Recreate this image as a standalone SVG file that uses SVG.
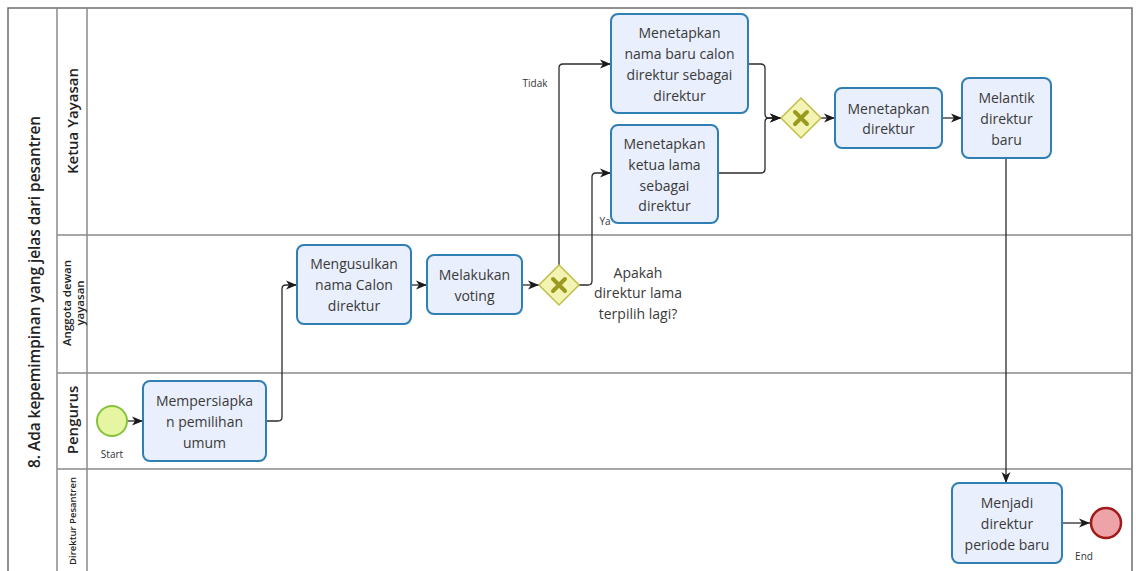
<svg xmlns="http://www.w3.org/2000/svg" width="1136" height="571" viewBox="0 0 1136 571">
<style>
.pool{fill:#ffffff;stroke:#6e6e6e;stroke-width:1.5}
.lane{stroke:#8a8a8a;stroke-width:1.5;fill:none}
.task{fill:#e9effc;stroke:#2f7fb4;stroke-width:2}
.tt{font-family:"Open Sans","Liberation Sans",sans-serif;font-size:14px;fill:#3a3a3a;text-anchor:middle;dominant-baseline:central}
.lbl{font-family:"Open Sans","Liberation Sans",sans-serif;font-size:10px;fill:#333;text-anchor:middle;dominant-baseline:central}
.hdr{font-family:"Open Sans","Liberation Sans",sans-serif;font-weight:600;fill:#222;text-anchor:middle;dominant-baseline:central}
.gw{fill:#f3f3b4;stroke:#bfbf48;stroke-width:1.5}
.gx{stroke:#9a9a1e;stroke-width:4;stroke-linecap:round}
.conn{fill:none;stroke:#2b2b2b;stroke-width:1.3}
</style>
<defs>
<marker id="arr" markerUnits="userSpaceOnUse" markerWidth="12" markerHeight="10" refX="11" refY="5" orient="auto">
<path d="M0,0.5 L11,5 L0,9.5 L3,5 Z" fill="#1a1a1a"/>
</marker>
</defs>
<rect width="1136" height="571" fill="#ffffff"/>
<g id="pool">
<rect class="pool" x="8" y="8" width="1124" height="575"/>
<line class="lane" x1="57" y1="8" x2="57" y2="571"/>
<line class="lane" x1="87" y1="8" x2="87" y2="571"/>
<line class="lane" x1="57" y1="235" x2="1132" y2="235"/>
<line class="lane" x1="57" y1="373" x2="1132" y2="373"/>
<line class="lane" x1="57" y1="469" x2="1132" y2="469"/>
<text class="hdr" font-size="15.5" transform="translate(34,292) rotate(-90)" textLength="352" lengthAdjust="spacingAndGlyphs">8. Ada kepemimpinan yang jelas dari pesantren</text>
</g>
<g id="lane-ketua"><text class="hdr" font-size="15" transform="translate(72,121) rotate(-90)">Ketua Yayasan</text></g>
<g id="lane-anggota"><text class="hdr" font-size="11.5" transform="translate(66,303) rotate(-90)">Anggota dewan</text><text class="hdr" font-size="11.5" transform="translate(79,303) rotate(-90)">yayasan</text></g>
<g id="lane-pengurus"><text class="hdr" font-size="15" transform="translate(72,420) rotate(-90)">Pengurus</text></g>
<g id="lane-direktur"><text class="hdr" font-size="9.5" transform="translate(72,521) rotate(-90)">Direktur Pesantren</text></g>

<g id="connectors">
<path class="conn" marker-end="url(#arr)" d="M127,421 H143"/>
<path class="conn" marker-end="url(#arr)" d="M266,421 H278 Q282,421 282,417 V289 Q282,285 286,285 H297"/>
<path class="conn" marker-end="url(#arr)" d="M411,285 H427"/>
<path class="conn" marker-end="url(#arr)" d="M522,285 H539"/>
<path class="conn" marker-end="url(#arr)" d="M559,265 V68 Q559,64 563,64 H611"/>
<path class="conn" marker-end="url(#arr)" d="M579,285 H588 Q592,285 592,281 V177 Q592,173 596,173 H611"/>
<path class="conn" marker-end="url(#arr)" d="M748,64 H761 Q765,64 765,68 V114 Q765,118 769,118 H781"/>
<path class="conn" marker-end="url(#arr)" d="M718,173 H761 Q765,173 765,169 V122 Q765,118 769,118 H781"/>
<path class="conn" marker-end="url(#arr)" d="M821,118 H835"/>
<path class="conn" marker-end="url(#arr)" d="M942,118 H962"/>
<path class="conn" marker-end="url(#arr)" d="M1006,158 V483"/>
<path class="conn" marker-end="url(#arr)" d="M1062,523 H1090"/>
<text class="lbl" x="535" y="83">Tidak</text>
<text class="lbl" x="605" y="221">Ya</text>
</g>

<g id="start">
<circle cx="112" cy="421" r="15" fill="#e6f5a2" stroke="#86c23e" stroke-width="2"/>
<text class="lbl" x="112" y="454">Start</text>
</g>
<g id="t-mempersiapkan">
<rect class="task" x="143" y="381" width="123" height="80" rx="7"/>
<text class="tt" x="204.5" y="400">Mempersiapka</text>
<text class="tt" x="204.5" y="421">n pemilihan</text>
<text class="tt" x="204.5" y="442">umum</text>
</g>
<g id="t-mengusulkan">
<rect class="task" x="297" y="245" width="114" height="79" rx="7"/>
<text class="tt" x="354" y="263.5">Mengusulkan</text>
<text class="tt" x="354" y="284.5">nama Calon</text>
<text class="tt" x="354" y="305.5">direktur</text>
</g>
<g id="t-voting">
<rect class="task" x="427" y="255" width="95" height="59" rx="7"/>
<text class="tt" x="474.5" y="274">Melakukan</text>
<text class="tt" x="474.5" y="295">voting</text>
</g>
<g id="gw1">
<path class="gw" d="M559,265 L579,285 L559,305 L539,285 Z"/>
<path class="gx" d="M553,279 L565,291 M565,279 L553,291"/>
<text class="tt" font-size="14.5" x="638" y="272">Apakah</text>
<text class="tt" font-size="14.5" x="638" y="292.5">direktur lama</text>
<text class="tt" font-size="14.5" x="638" y="313">terpilih lagi?</text>
</g>
<g id="t-nama-baru">
<rect class="task" x="611" y="14" width="137" height="99" rx="7"/>
<text class="tt" x="679.5" y="32">Menetapkan</text>
<text class="tt" x="679.5" y="53">nama baru calon</text>
<text class="tt" x="679.5" y="74">direktur sebagai</text>
<text class="tt" x="679.5" y="95">direktur</text>
</g>
<g id="t-ketua-lama">
<rect class="task" x="611" y="125" width="107" height="98" rx="7"/>
<text class="tt" x="664.5" y="143.5">Menetapkan</text>
<text class="tt" x="664.5" y="164">ketua lama</text>
<text class="tt" x="664.5" y="185">sebagai</text>
<text class="tt" x="664.5" y="205.5">direktur</text>
</g>
<g id="gw2">
<path class="gw" d="M801,98 L821,118 L801,138 L781,118 Z"/>
<path class="gx" d="M795,112 L807,124 M807,112 L795,124"/>
</g>
<g id="t-menetapkan-direktur">
<rect class="task" x="835" y="88" width="107" height="60" rx="7"/>
<text class="tt" x="888.5" y="108">Menetapkan</text>
<text class="tt" x="888.5" y="128.5">direktur</text>
</g>
<g id="t-melantik">
<rect class="task" x="962" y="78" width="89" height="80" rx="7"/>
<text class="tt" x="1006.5" y="97">Melantik</text>
<text class="tt" x="1006.5" y="118">direktur</text>
<text class="tt" x="1006.5" y="139">baru</text>
</g>
<g id="t-menjadi">
<rect class="task" x="952" y="483" width="110" height="80" rx="7"/>
<text class="tt" x="1007" y="502">Menjadi</text>
<text class="tt" x="1007" y="523">direktur</text>
<text class="tt" x="1007" y="544">periode baru</text>
</g>
<g id="end">
<circle cx="1106" cy="523" r="15" fill="#eea3a8" stroke="#a11a1a" stroke-width="2.5"/>
<text class="lbl" x="1084" y="556">End</text>
</g>
</svg>
